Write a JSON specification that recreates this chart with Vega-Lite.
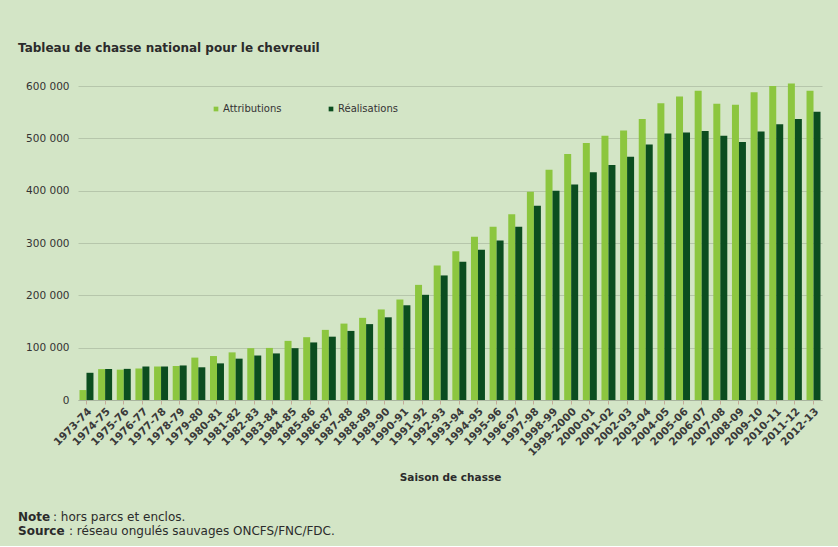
{
  "$schema": "https://vega.github.io/schema/vega-lite/v6.json",
  "background": "#d3e5c6",
  "padding": {"left": 18, "top": 42, "right": 16, "bottom": 8},
  "title": {
    "text": "Tableau de chasse national pour le chevreuil",
    "anchor": "start",
    "frame": "bounds",
    "font": "DejaVu Sans",
    "fontSize": 12,
    "fontWeight": "bold",
    "color": "#2b2b2b",
    "offset": 26
  },
  "spacing": 26,
  "vconcat": [
    {
      "width": 744,
      "height": 314,
      "data": {
        "values": [
          {"season": "1973-74", "Attributions": 19000, "Réalisations": 52000},
          {"season": "1974-75", "Attributions": 59000, "Réalisations": 59000},
          {"season": "1975-76", "Attributions": 58000, "Réalisations": 59500},
          {"season": "1976-77", "Attributions": 60000, "Réalisations": 64000},
          {"season": "1977-78", "Attributions": 64000, "Réalisations": 64000},
          {"season": "1978-79", "Attributions": 65000, "Réalisations": 66000},
          {"season": "1979-80", "Attributions": 81000, "Réalisations": 62500},
          {"season": "1980-81", "Attributions": 84000, "Réalisations": 70000},
          {"season": "1981-82", "Attributions": 91000, "Réalisations": 79000},
          {"season": "1982-83", "Attributions": 99000, "Réalisations": 85000},
          {"season": "1983-84", "Attributions": 99500, "Réalisations": 89000},
          {"season": "1984-85", "Attributions": 113000, "Réalisations": 99000},
          {"season": "1985-86", "Attributions": 120000, "Réalisations": 110000},
          {"season": "1986-87", "Attributions": 134000, "Réalisations": 121000},
          {"season": "1987-88", "Attributions": 146000, "Réalisations": 132000},
          {"season": "1988-89", "Attributions": 157000, "Réalisations": 145000},
          {"season": "1989-90", "Attributions": 173000, "Réalisations": 158000},
          {"season": "1990-91", "Attributions": 192000, "Réalisations": 181000},
          {"season": "1991-92", "Attributions": 220000, "Réalisations": 201000},
          {"season": "1992-93", "Attributions": 257000, "Réalisations": 238000},
          {"season": "1993-94", "Attributions": 284000, "Réalisations": 264000},
          {"season": "1994-95", "Attributions": 312000, "Réalisations": 287000},
          {"season": "1995-96", "Attributions": 331000, "Réalisations": 305000},
          {"season": "1996-97", "Attributions": 355000, "Réalisations": 331000},
          {"season": "1997-98", "Attributions": 398000, "Réalisations": 371000},
          {"season": "1998-99", "Attributions": 440000, "Réalisations": 400000},
          {"season": "1999-2000", "Attributions": 470000, "Réalisations": 412000},
          {"season": "2000-01", "Attributions": 491000, "Réalisations": 435000},
          {"season": "2001-02", "Attributions": 505000, "Réalisations": 449000},
          {"season": "2002-03", "Attributions": 515000, "Réalisations": 465000},
          {"season": "2003-04", "Attributions": 537000, "Réalisations": 488000},
          {"season": "2004-05", "Attributions": 567000, "Réalisations": 509000},
          {"season": "2005-06", "Attributions": 580000, "Réalisations": 511000},
          {"season": "2006-07", "Attributions": 591000, "Réalisations": 514000},
          {"season": "2007-08", "Attributions": 566000, "Réalisations": 505000},
          {"season": "2008-09", "Attributions": 564000, "Réalisations": 493000},
          {"season": "2009-10", "Attributions": 588000, "Réalisations": 513000},
          {"season": "2010-11", "Attributions": 600000, "Réalisations": 527000},
          {"season": "2011-12", "Attributions": 605000, "Réalisations": 537000},
          {"season": "2012-13", "Attributions": 591000, "Réalisations": 551000}
        ]
      },
      "transform": [
        {"fold": ["Attributions", "Réalisations"], "as": ["serie", "value"]}
      ],
      "mark": {"type": "bar"},
      "encoding": {
        "x": {
          "field": "season",
          "type": "nominal",
          "sort": null,
          "scale": {"paddingInner": 0.25, "paddingOuter": 0.08},
          "axis": {
            "title": "Saison de chasse",
            "titleFont": "DejaVu Sans",
            "titleFontSize": 10.5,
            "titleFontWeight": "bold",
            "titleColor": "#2b2b2b",
            "titlePadding": 15,
            "labelAngle": -45,
            "labelFont": "DejaVu Sans",
            "labelFontSize": 10.5,
            "labelFontWeight": "bold",
            "labelColor": "#3a3a3a",
            "labelPadding": 2,
            "domainColor": "#a8b49e",
            "tickColor": "#c4aa98",
            "tickSize": 4
          }
        },
        "xOffset": {
          "field": "serie",
          "type": "nominal",
          "sort": ["Attributions", "Réalisations"]
        },
        "y": {
          "field": "value",
          "type": "quantitative",
          "scale": {"domain": [0, 600000], "nice": false},
          "axis": {
            "title": null,
            "values": [0, 100000, 200000, 300000, 400000, 500000, 600000],
            "labelExpr": "replace(format(datum.value, ','), ',', ' ')",
            "labelFont": "DejaVu Sans",
            "labelFontSize": 10.5,
            "labelColor": "#333333",
            "labelPadding": 9,
            "minExtent": 60,
            "domain": false,
            "ticks": false,
            "gridColor": "#b6c6ab",
            "gridWidth": 1
          }
        },
        "color": {
          "field": "serie",
          "type": "nominal",
          "scale": {
            "domain": ["Attributions", "Réalisations"],
            "range": ["#8cc63f", "#0b4d1f"]
          },
          "legend": {
            "orient": "none",
            "legendX": 133,
            "legendY": 18,
            "direction": "horizontal",
            "title": null,
            "symbolType": "square",
            "symbolSize": 22,
            "labelFont": "DejaVu Sans",
            "labelFontSize": 10,
            "labelColor": "#333333",
            "labelOffset": 2,
            "columnPadding": 44
          }
        }
      }
    },
    {
      "width": 744,
      "height": 28,
      "data": {
        "values": [
          {"line": 1, "head": "Note", "rest": " : hors parcs et enclos."},
          {"line": 2, "head": "Source", "rest": " : réseau ongulés sauvages ONCFS/FNC/FDC."}
        ]
      },
      "layer": [
        {
          "mark": {"type": "text", "align": "left", "baseline": "middle", "font": "DejaVu Sans", "fontSize": 12, "fontWeight": "bold", "color": "#2b2b2b", "dx": -60},
          "encoding": {
            "x": {"value": 0},
            "y": {"field": "line", "type": "ordinal", "axis": null, "scale": {"paddingOuter": 0, "paddingInner": 0}},
            "text": {"field": "head"}
          }
        },
        {
          "transform": [{"filter": "datum.line == 1"}],
          "mark": {"type": "text", "align": "left", "baseline": "middle", "font": "DejaVu Sans", "fontSize": 12, "color": "#2b2b2b", "dx": -25},
          "encoding": {
            "x": {"value": 0},
            "y": {"field": "line", "type": "ordinal", "axis": null},
            "text": {"field": "rest"}
          }
        },
        {
          "transform": [{"filter": "datum.line == 2"}],
          "mark": {"type": "text", "align": "left", "baseline": "middle", "font": "DejaVu Sans", "fontSize": 12, "color": "#2b2b2b", "dx": -9},
          "encoding": {
            "x": {"value": 0},
            "y": {"field": "line", "type": "ordinal", "axis": null},
            "text": {"field": "rest"}
          }
        }
      ]
    }
  ],
  "config": {
    "view": {"stroke": null}
  }
}
